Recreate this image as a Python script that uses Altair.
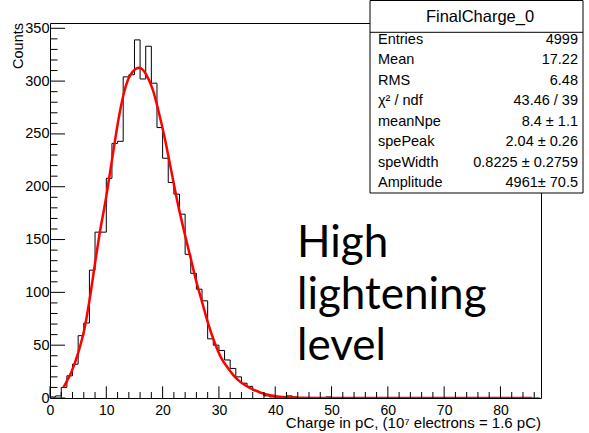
import altair as alt
import pandas as pd

# ---------------- data ----------------
bin_left = list(range(0, 87))
counts = [1, 2, 10, 21, 32, 59, 71, 121, 157, 157,
          208, 241, 243, 304, 306, 339, 302, 333, 298, 256,
          227, 204, 193, 174, 136, 118, 103, 92, 56, 50,
          45, 36, 28, 20, 14, 11, 7, 5, 2, 1,
          1, 1, 2, 1, 0, 0, 0, 0, 0, 1] + [0] * 37

fit_x = [2.4, 3.0, 3.75, 4.9, 6.1, 7.0, 7.9, 8.7, 10.0, 11.2, 12.3, 13.5, 14.7,
         15.9, 17.1, 18.25, 19.3, 20.3, 21.5, 22.7, 23.9, 25.0, 26.0, 27.0, 28.0,
         29.2, 30.4, 31.6, 32.75, 33.9, 35.7, 38.1, 40.4, 44.0, 50.0, 60.0, 70.0,
         80.0, 85.6]
fit_y = [10, 16, 24, 41, 65, 92, 124, 152, 191, 232, 268, 296, 309,
         312.6, 306, 292, 271, 248, 216, 184, 156, 132, 110, 91, 72,
         53, 38, 28.4, 20.5, 14.8, 9, 3.8, 1.5, 0.3, 0, 0, 0,
         0, 0]

x_major = [0, 10, 20, 30, 40, 50, 60, 70, 80]
x_minor = [v for v in range(2, 87, 2) if v % 10 != 0]
y_major = [0, 50, 100, 150, 200, 250, 300, 350]
y_minor = [v for v in range(10, 355, 10) if v % 50 != 0]

stat_names = ["Entries", "Mean", "RMS", "\u03c7\u00b2 / ndf", "meanNpe",
              "spePeak", "speWidth", "Amplitude"]
stat_values = ["4999", "17.22", "6.48", "43.46 / 39", "8.4 \u00b1 1.1",
               "2.04 \u00b1 0.26", "0.8225 \u00b1 0.2759", "4961\u00b1 70.5"]
stats_title = "FinalCharge_0"
x_title = "Charge in pC, (10\u2077 electrons = 1.6 pC)"
y_title = "Counts"
note_lines = ["High", "lightening", "level"]

X_MAX = 87.2
Y_MAX = 355
FONT = "Liberation Sans"

# ---------------- tables ----------------
hist_df = pd.DataFrame({"x": bin_left + [bin_left[-1] + 1],
                        "y": counts + [counts[-1]]})
fit_df = pd.DataFrame({"x": fit_x, "y": fit_y})
one = pd.DataFrame({"k": [0]})

xs = alt.Scale(domain=[0, X_MAX], nice=False, zero=False)
ys = alt.Scale(domain=[0, Y_MAX], nice=False)

xaxis = alt.Axis(values=x_major, ticks=False, domain=False, grid=False, title="",
                 labelFont=FONT, labelFontSize=14, labelColor="black",
                 labelPadding=5, labelFlush=False)
yaxis = alt.Axis(values=y_major, ticks=False, domain=False, grid=False, title="",
                 labelFont=FONT, labelFontSize=14.5, labelColor="black",
                 labelPadding=1)

hist = alt.Chart(hist_df).mark_line(
    interpolate="step-after", color="black", strokeWidth=1, clip=True
).encode(x=alt.X("x:Q", scale=xs, axis=xaxis), y=alt.Y("y:Q", scale=ys, axis=yaxis))

fit = alt.Chart(fit_df).mark_line(
    interpolate="monotone", color="#ff0000", strokeWidth=2.5, clip=True
).encode(x=alt.X("x:Q", scale=xs), y=alt.Y("y:Q", scale=ys))

def yticks(vals, length):
    return alt.Chart(pd.DataFrame({"v": vals})).mark_rule(color="black", strokeWidth=1).encode(
        y=alt.Y("v:Q", scale=ys), x=alt.value(0), x2=alt.value(length))

def xticks(vals, length):
    return alt.Chart(pd.DataFrame({"v": vals})).mark_rule(color="black", strokeWidth=1).encode(
        x=alt.X("v:Q", scale=xs), y=alt.value(375), y2=alt.value(375 - length))

box = alt.Chart(one).mark_rect(fill="white", stroke="black", strokeWidth=1).encode(
    x=alt.value(320), x2=alt.value(533), y=alt.value(-22.5), y2=alt.value(170))
sep = alt.Chart(one).mark_rule(color="black", strokeWidth=1).encode(
    x=alt.value(320), x2=alt.value(533), y=alt.value(9.3))
title_t = alt.Chart(one).mark_text(font=FONT, fontSize=16.5, align="center",
                                   baseline="middle", color="black").encode(
    x=alt.value(430), y=alt.value(-6.5), text=alt.value(stats_title))
names_t = alt.Chart(one).mark_text(font=FONT, fontSize=14.5, align="left",
                                   baseline="middle", lineHeight=20.47, color="black").encode(
    x=alt.value(328), y=alt.value(17), text=alt.value(stat_names))
vals_t = alt.Chart(one).mark_text(font=FONT, fontSize=14.5, align="right",
                                  baseline="middle", lineHeight=20.47, color="black").encode(
    x=alt.value(528), y=alt.value(17), text=alt.value(stat_values))

xt = alt.Chart(one).mark_text(font=FONT, fontSize=15, align="right",
                              baseline="alphabetic", color="black").encode(
    x=alt.value(491), y=alt.value(404.5), text=alt.value(x_title))
yt = alt.Chart(one).mark_text(font=FONT, fontSize=14.5, align="right",
                              baseline="middle", angle=270, color="black").encode(
    x=alt.value(-31.5), y=alt.value(0), text=alt.value(y_title))

note = alt.Chart(one).mark_text(font="Lato", fontSize=44, align="left",
                                baseline="alphabetic", lineHeight=51.5, color="black").encode(
    x=alt.value(247), y=alt.value(234), text=alt.value(note_lines))

chart = alt.layer(
    hist, fit,
    yticks(y_major, 15), yticks(y_minor, 7.5),
    xticks(x_major, 11.7), xticks(x_minor, 6),
    box, sep, title_t, names_t, vals_t, xt, yt, note
).properties(
    width=491, height=375,
    padding={"left": 50, "top": 23, "right": 48, "bottom": 35},
    autosize="none", background="white"
).configure_view(stroke="black", strokeWidth=1)

chart.save("out.html", embed_options={"renderer": "svg", "actions": False})
